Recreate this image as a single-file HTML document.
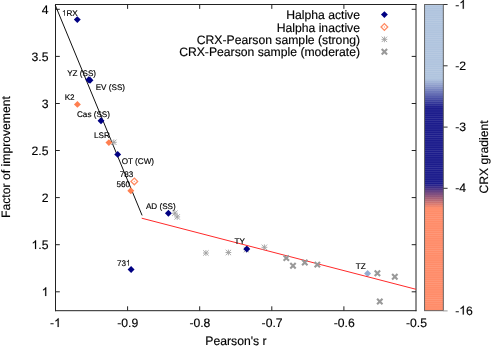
<!DOCTYPE html>
<html><head><meta charset="utf-8">
<style>
html,body{margin:0;padding:0;background:#fff;}
svg{display:block;will-change:transform;}
text{font-family:"Liberation Sans",sans-serif;fill:#000;text-rendering:geometricPrecision;stroke:#000;stroke-width:0.15px;}
.t{font-size:12.2px;}
.s{font-size:8.15px;stroke:none;fill:#111;}
</style></head><body>
<svg width="491" height="346" viewBox="0 0 491 346">
<defs>
<linearGradient id="cb" gradientUnits="userSpaceOnUse" x1="0" y1="4.5" x2="0" y2="310.5">
<stop offset="0" stop-color="#b0c4de"/>
<stop offset="0.243" stop-color="#b0c4de"/>
<stop offset="0.336" stop-color="#1c1c8c"/>
<stop offset="0.586" stop-color="#1c1c8c"/>
<stop offset="0.665" stop-color="#ff8c69"/>
<stop offset="1" stop-color="#ff8c69"/>
</linearGradient>
<pattern id="bd" patternUnits="userSpaceOnUse" x="0" y="4.5" width="20" height="2.13"><rect x="0" y="0.8" width="20" height="0.6" fill="#fff" fill-opacity="0.13"/></pattern>
<path id="one" d="M763 0H583V1147Q518 1085 412.5 1023T223 930V1104Q373 1174.5 485 1275T644 1470H763Z"/>
<path id="d" d="M0,-3.45 L3.45,0 L0,3.45 L-3.45,0 Z"/>
<g id="od"><path d="M0,-3.35 L3.35,0 L0,3.35 L-3.35,0 Z" fill="#fff" stroke="#ff8a62" stroke-width="1.3"/><circle r="0.65" fill="#ffa585"/></g>
<g id="ast" stroke="#a0a0a0" stroke-width="0.9" fill="none"><path d="M-2.7,-2.7L2.7,2.7M-2.7,2.7L2.7,-2.7M0,-2.9V2.9M-2.9,0H2.9"/></g>
<g id="xm" stroke="#999" stroke-width="2.1" fill="none"><path d="M-2.7,-2.7L2.7,2.7M-2.7,2.7L2.7,-2.7"/></g>
</defs>
<rect width="491" height="346" fill="#fff"/>
<!-- colorbar -->
<rect x="424.6" y="4.5" width="18.7" height="306.2" fill="url(#cb)"/>
<rect x="424.6" y="4.5" width="18.7" height="306.2" fill="url(#bd)"/>
<rect x="424.6" y="4.5" width="18.7" height="306.2" fill="none" stroke="#555" stroke-width="0.9"/>
<g stroke="#000" stroke-width="1" fill="none">
<path d="M443.3,4.5h4.3M443.3,65.8h4.3M443.3,127.1h4.3M443.3,188.3h4.3" stroke="#333"/>
<path d="M443.3,310.9h4.3" stroke="#999"/>
</g>
<g class="t">
<text x="455.2" y="8.8">-</text><use href="#one" transform="translate(459.26,8.8) scale(0.005957,-0.005957)" fill="#000" stroke="#000" stroke-width="25"/>
<text x="455.2" y="70">-2</text>
<text x="455.2" y="131.2">-3</text>
<text x="455.2" y="192.4">-4</text>
<text x="455.2" y="314.5">-</text><use href="#one" transform="translate(459.26,314.5) scale(0.005957,-0.005957)" fill="#000" stroke="#000" stroke-width="25"/><text x="466.04" y="314.5">6</text>
<text transform="translate(488,157) rotate(-90)" text-anchor="middle">CRX gradient</text>
</g>
<!-- axes -->
<g stroke="#222" stroke-width="1" fill="none">
<path d="M55.5,4v307.2M55,4.5h361.5M416,4v307.2M55,310.7h361.5"/>
<path d="M55.5,9.3h4.3M55.5,56.4h4.3M55.5,103.5h4.3M55.5,150.5h4.3M55.5,197.6h4.3M55.5,244.7h4.3M55.5,291.8h4.3"/>
<path d="M416,9.3h-4.3M416,56.4h-4.3M416,103.5h-4.3M416,150.5h-4.3M416,197.6h-4.3M416,244.7h-4.3M416,291.8h-4.3"/>
<path d="M127.6,310.7v-4.4M199.7,310.7v-4.4M271.8,310.7v-4.4M343.9,310.7v-4.4"/>
<path d="M127.6,4.5v4.4M199.7,4.5v4.4M271.8,4.5v4.4M343.9,4.5v4.4"/>
</g>
<g class="t" text-anchor="end">
<text x="48.5" y="14">4</text>
<text x="48.5" y="61">3.5</text>
<text x="48.5" y="108">3</text>
<text x="48.5" y="155">2.5</text>
<text x="48.5" y="202">2</text>
<use href="#one" transform="translate(31.54,249) scale(0.005957,-0.005957)" fill="#000" stroke="#000" stroke-width="25"/><text x="38.32" y="249" text-anchor="start">.5</text>
<use href="#one" transform="translate(41.72,296) scale(0.005957,-0.005957)" fill="#000" stroke="#000" stroke-width="25"/>
</g>
<g class="t" text-anchor="middle">
<text x="50.08" y="327" text-anchor="start">-</text><use href="#one" transform="translate(54.14,327) scale(0.005957,-0.005957)" fill="#000" stroke="#000" stroke-width="25"/>
<text x="127.7" y="327">-0.9</text>
<text x="199.9" y="327">-0.8</text>
<text x="272.1" y="327">-0.7</text>
<text x="344.3" y="327">-0.6</text>
<text x="416.5" y="327">-0.5</text>
<text x="236" y="344.7">Pearson's r</text>
<text transform="translate(10.3,157) rotate(-90)">Factor of improvement</text>
</g>
<!-- legend -->
<g class="t" text-anchor="end">
<text x="360" y="18.9">Halpha active</text>
<text x="360" y="31.6">Halpha inactive</text>
<text x="360" y="43.5">CRX-Pearson sample (strong)</text>
<text x="360" y="56">CRX-Pearson sample (moderate)</text>
</g>
<use href="#d" x="384.4" y="14.6" fill="#000082"/>
<use href="#od" x="384.4" y="27"/>
<use href="#ast" x="384.4" y="39.35"/>
<use href="#xm" x="384.4" y="51.7"/>
<!-- lines -->
<path d="M55.2,5 L142.1,215.4" stroke="#111" stroke-width="1" fill="none"/>
<use href="#d" x="367.6" y="273.5" fill="#93abd0"/>
<use href="#ast" x="246.4" y="249.7"/>
<use href="#d" x="246.8" y="249" fill="#000082"/>
<path d="M141.7,218.2 L416,289.3" stroke="#ff2a2a" stroke-width="1" fill="none"/>
<!-- gray markers -->
<use href="#ast" x="113.8" y="142.3"/>
<use href="#ast" x="174.9" y="213.2"/>
<use href="#ast" x="177.2" y="216.9"/>
<use href="#ast" x="205.9" y="253.0"/>
<use href="#ast" x="228.4" y="252.5"/>
<use href="#ast" x="264.4" y="247.3"/>
<use href="#xm" x="286.3" y="258.1"/>
<use href="#xm" x="293" y="265.8"/>
<use href="#xm" x="304.8" y="262.5"/>
<use href="#xm" x="317.3" y="264.6"/>
<use href="#xm" x="377.4" y="273.3"/>
<use href="#xm" x="394.8" y="276.7"/>
<use href="#xm" x="379.8" y="301.5"/>
<!-- diamonds -->
<g fill="#000082">
<use href="#d" x="77.3" y="19.6"/>
<use href="#d" x="88.8" y="79.7"/>
<use href="#d" x="90" y="80.2"/>
<use href="#d" x="101" y="120.7"/>
<use href="#d" x="117.7" y="154.4"/>
<use href="#d" x="168.4" y="213.3"/>
<use href="#d" x="131.1" y="269.5"/>
</g>
<g fill="#ff7f50">
<use href="#d" x="77.4" y="104.4"/>
<use href="#d" x="108.9" y="142.6"/>
<use href="#d" x="130.8" y="190.8"/>
</g>
<use href="#od" x="134.3" y="181.4"/>
<!-- point labels -->
<g class="s">
<use href="#one" transform="translate(61.90,15.8) scale(0.003979,-0.003979)" fill="#111"/><text x="66.43" y="15.8">RX</text>
<text x="67.2" y="76.3">YZ (SS)</text>
<text x="95.7" y="89.9">EV (SS)</text>
<text x="64.7" y="100">K2</text>
<text x="77" y="117.3">Cas (SS)</text>
<text x="94" y="137.5">LSR</text>
<text x="121.7" y="164.4">OT (CW)</text>
<text x="119.8" y="176.5">783</text>
<text x="116.4" y="186.6">560</text>
<text x="145.9" y="209">AD (SS)</text>
<text x="116.9" y="265.7">73</text><use href="#one" transform="translate(125.96,265.7) scale(0.003979,-0.003979)" fill="#111"/>
<text x="234.5" y="244.2">TY</text>
<text x="355.8" y="268.7">TZ</text>
</g>
</svg>
</body></html>
